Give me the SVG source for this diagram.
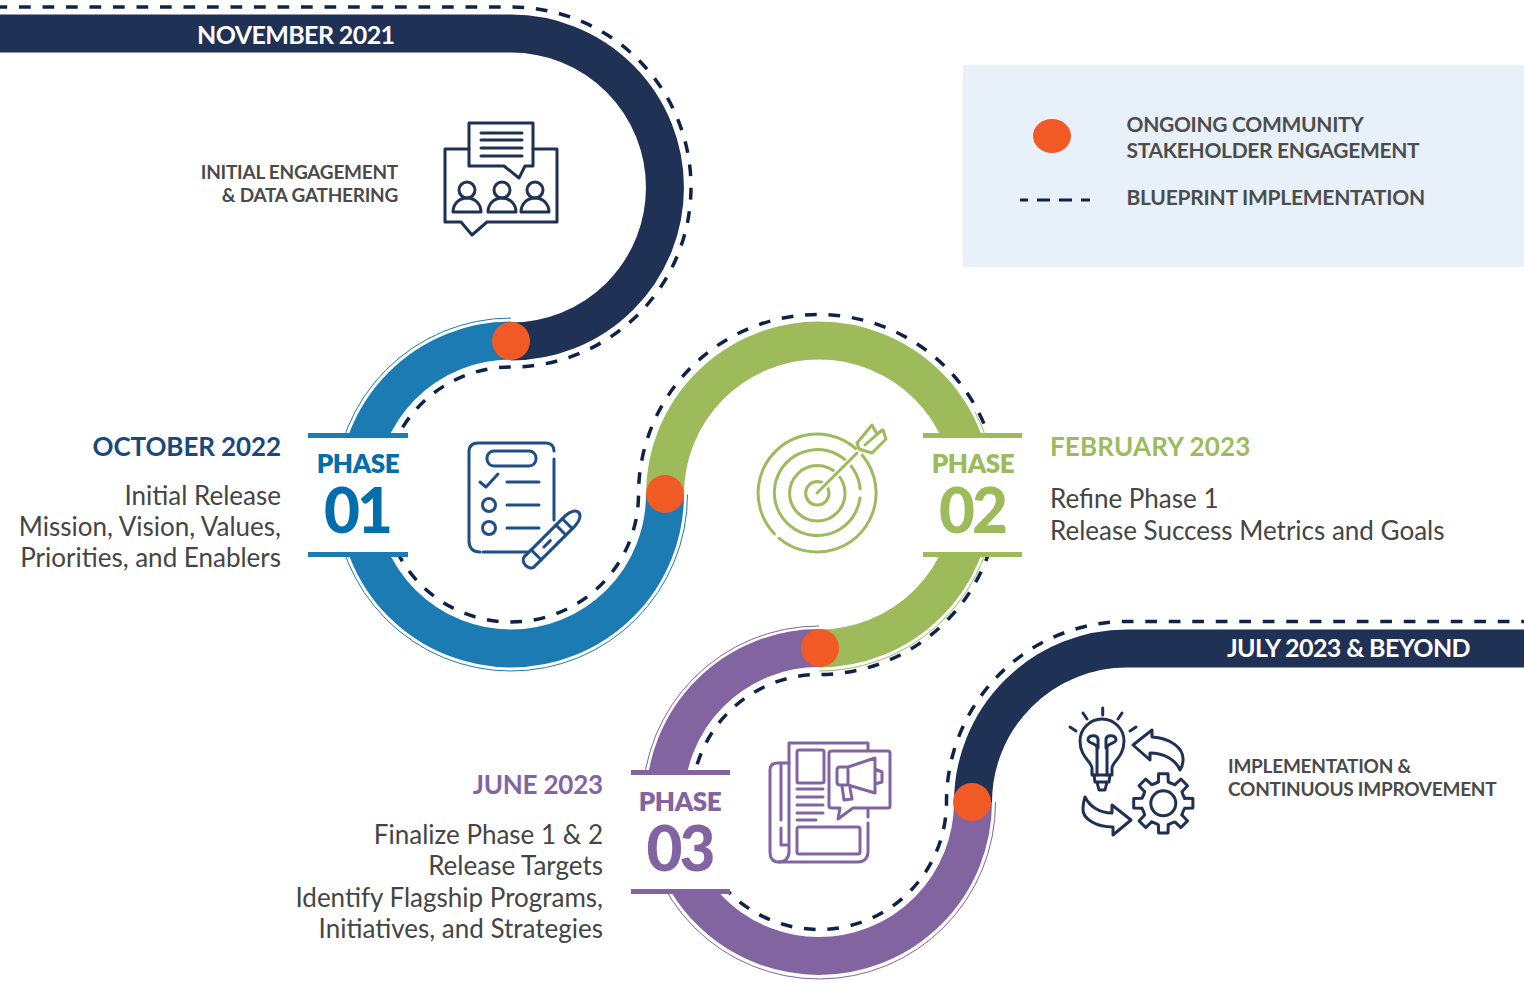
<svg xmlns="http://www.w3.org/2000/svg" xmlns:xlink="http://www.w3.org/1999/xlink" width="1524" height="987" viewBox="0 0 1524 987">
<style>
text{font-family:Lato,"Noto Sans","Liberation Sans",sans-serif}
.b{fill:none;stroke-width:38}
.thin{fill:none;stroke-width:1}
.dot{fill:#f15a25}
.dash{fill:none;stroke:#0f2347;stroke-width:3.500;stroke-dasharray:11.700 11.800;stroke-dashoffset:4.500}
.wh{fill:#fff}
.date{font-weight:700;font-size:26px}
.body{font-size:26px;fill:#454545;font-weight:400}
.ph{font-weight:800;font-size:26px;text-anchor:middle;letter-spacing:-.4px}
.num{font-weight:900;font-size:62px;text-anchor:middle;letter-spacing:-3px}
.lab{font-weight:700;font-size:19px;fill:#4a4a4a;letter-spacing:-.25px}
.leg{font-weight:700;font-size:21px;fill:#4d4d4d;letter-spacing:-.32px}
.ban{font-weight:700;font-size:25px;fill:#fff;letter-spacing:-.6px}
.ico{fill:none;stroke-width:3;stroke-linecap:round;stroke-linejoin:round}
.end{text-anchor:end}
</style>
<defs>
<path id="tooth" d="M21.4-4.95 29.6-4.7 29.6 4.7 21.4 4.95A22 22 0 0 0 18.66 11.66"/>
</defs>
<g id="connectors">
<path class="b" stroke="#1f3155" d="M0 33.500H511A154 154 0 0 1 511 341.500"/>
<path class="b" stroke="#1b7bb2" d="M511 340.500A154 154 0 1 0 665 494.500"/>
<path class="b" stroke="#9dbb5a" d="M665 494.500A154 154 0 1 1 819 648.500"/>
<path class="b" stroke="#8264a1" d="M819 648A154 154 0 1 0 973 802"/>
<path class="b" stroke="#1f3155" d="M973 802A154 154 0 0 1 1127 648.500H1524"/>
<path class="thin" stroke="#1b7bb2" d="M511 318A176.500 176.500 0 1 0 687.500 494.500"/>
<path class="thin" stroke="#9dbb5a" d="M975 412A176.500 176.500 0 0 1 819 671"/>
<path class="thin" stroke="#8264a1" d="M819 626A176.500 176.500 0 1 0 995.500 802"/>
<path class="dash" d="M0 7H511A180 180 0 0 1 511 367A127.500 127.500 0 1 0 638.500 494.500A180 180 0 1 1 819 674.500A127.500 127.500 0 1 0 946.500 802A180.500 180.500 0 0 1 1127 621.500H1524"/>
</g>
<g id="legend">
<rect x="963" y="65" width="561" height="202" fill="#e8f0f9"/>
<ellipse class="dot" cx="1052" cy="136" rx="19" ry="17"/>
<path d="M1020 200H1090" fill="none" stroke="#0f2347" stroke-width="3" stroke-dasharray="13 9" stroke-dashoffset="5"/>
<text class="leg" x="1126.500" y="132">ONGOING COMMUNITY</text>
<text class="leg" x="1126.500" y="158">STAKEHOLDER ENGAGEMENT</text>
<text class="leg" x="1126.500" y="205" style="letter-spacing:-.25px">BLUEPRINT IMPLEMENTATION</text>
</g>
<g id="start-banner">
<text class="ban" x="197" y="44">NOVEMBER 2021</text>
</g>
<g id="engagement">
<text class="lab end" x="398" y="179">INITIAL ENGAGEMENT</text>
<text class="lab end" x="398" y="202">&amp; DATA GATHERING</text>
<g class="ico" stroke="#1f3155">
<path d="M469 149H445V222H461L472 235 487 222H557V149H533"/>
<path d="M469 123H533V166H525L519 178 504 166H469Z"/>
<path d="M481 133H522M481 140H522M481 148H522M481 156H522"/>
<circle cx="467" cy="190" r="8"/><circle cx="502" cy="190" r="8"/><circle cx="535" cy="190" r="8"/>
<path d="M453 212C453 204 459 198 467 198S481 204 481 212Z"/>
<path d="M488 212C488 204 494 198 502 198S516 204 516 212Z"/>
<path d="M521 212C521 204 527 198 535 198S549 204 549 212Z"/>
</g>
</g>
<g id="phase-01">
<rect class="wh" x="308" y="433" width="100" height="124"/>
<rect x="308" y="433" width="100" height="5" fill="#1b7bb2"/>
<rect x="308" y="552" width="100" height="5" fill="#1b7bb2"/>
<text class="ph" x="358" y="473" fill="#026eab">PHASE</text>
<text class="num" x="357" y="533" fill="#026eab">01</text>
<text class="date end" x="281" y="456" fill="#17497f" style="letter-spacing:-.1px">OCTOBER 2022</text>
<text class="body end" x="281" y="505">Initial Release</text>
<text class="body end" x="281" y="536">Mission, Vision, Values,</text>
<text class="body end" x="281" y="567">Priorities, and Enablers</text>
<g class="ico" stroke="#1f4e87">
<path d="M554 451C554 446 551 443 546 443H478C472 443 469 446 469 452V541C469 548 473 552 480 552"/>
<path d="M554 459V520M483 552H530"/>
<rect x="487" y="451" width="49" height="15" rx="7"/>
<path d="M480 482 486 487 498 474"/>
<path d="M507 482H539M507 505H539M507 528H539"/>
<circle cx="489" cy="505" r="6.500"/><circle cx="489" cy="528" r="6.500"/>
<g transform="translate(527 564) rotate(-45)">
<path d="M3-7 61-7C69-7 73-3 73 0S69 7 61 7H3C0 7-2 3-2 0S0-7 3-7Z" fill="#fff"/>
<path d="M13-7V7M48-7V7M57-7V7M24 0H33"/>
</g>
</g>
</g>
<g id="phase-02">
<rect class="wh" x="923" y="433" width="99" height="124"/>
<rect x="923" y="433" width="99" height="5" fill="#9dbb5a"/>
<rect x="923" y="552" width="99" height="5" fill="#9dbb5a"/>
<text class="ph" x="973" y="473" fill="#9dbb5a">PHASE</text>
<text class="num" x="972" y="533" fill="#9dbb5a">02</text>
<text class="date" x="1050" y="456" fill="#9dbb5a" style="letter-spacing:.15px">FEBRUARY 2023</text>
<text class="body" x="1050" y="508">Refine Phase 1</text>
<text class="body" x="1050" y="540">Release Success Metrics and Goals</text>
<g class="ico" stroke="#9dbb5a">
<path d="M774.400 533.800A59 59 0 1 1 779.200 538.300"/>
<path d="M860 498A43 43 0 1 1 860.200 489"/>
<circle cx="817.300" cy="493.300" r="27.700"/>
<circle cx="817.300" cy="493.300" r="11.700"/>
<path d="M817 493 860 451" stroke="#fff" stroke-width="7" stroke-linecap="butt"/>
<path d="M817 493 857 453"/>
<path d="M857 443 872 425 877 434 883 430 886 439 872 453 859 449Z" fill="#fff"/>
<path d="M865 445 882 430"/>
</g>
</g>
<g id="phase-03">
<rect class="wh" x="631" y="770" width="99" height="124"/>
<rect x="631" y="770" width="99" height="5" fill="#8264a1"/>
<rect x="631" y="889" width="99" height="5" fill="#8264a1"/>
<text class="ph" x="680" y="811" fill="#8264a1">PHASE</text>
<text class="num" x="679.500" y="871" fill="#8264a1">03</text>
<text class="date end" x="603" y="794" fill="#8264a1" style="letter-spacing:-.2px">JUNE 2023</text>
<text class="body end" x="603" y="844">Finalize Phase 1 &amp; 2</text>
<text class="body end" x="603" y="875">Release Targets</text>
<text class="body end" x="603" y="907">Identify Flagship Programs,</text>
<text class="body end" x="603" y="938">Initiatives, and Strategies</text>
<g class="ico" stroke="#8264a1">
<path d="M789 763V743H868V750M868 810V817M868 823V852C868 858 864 862 858 862H778C773 862 770 858 770 852V770C770 765 773 763 778 763H789"/>
<path d="M789 763V852C789 858 785 862 779 862M781 765V820M781 828V845H788"/>
<rect x="797" y="750" width="27" height="33" rx="2"/>
<path d="M797 789H823M797 797H823M797 805H823M797 813H823M797 820H816"/>
<rect x="797" y="827" width="63" height="27" rx="2"/>
<path d="M832 751H888Q890 751 890 753V806Q890 808 888 808H853L838 819 840 808H832Q829 808 829 806V753Q829 751 832 751Z" fill="#fff"/>
<path d="M848 767 875 758V793L848 785H840Q837 785 837 782V770Q837 767 840 767ZM848 767V785M875 769 882 772V782L875 784M842 786 844 800 852 799 850 788"/>
</g>
</g>
<g id="end-banner">
<text class="ban end" x="1470" y="657">JULY 2023 &amp; BEYOND</text>
<text class="lab" x="1228" y="773">IMPLEMENTATION &amp;</text>
<text class="lab" x="1228" y="796">CONTINUOUS IMPROVEMENT</text>
<g class="ico" stroke="#1f3155">
<path d="M1092 775V768C1092 762 1080 757 1080 741A22 22 0 0 1 1124 741C1124 757 1112 762 1112 768V775Z"/>
<path d="M1097 775V748C1097 743 1089 744 1088 740 1088 735 1097 734 1098 739V748M1107 775V748C1107 743 1115 744 1116 740 1116 735 1107 734 1106 739V748"/>
<path d="M1094 775 1095 782H1109L1110 775M1097 782 1099 790H1105L1107 782"/>
<path d="M1102.700 708V715M1083 713 1087 719M1122 713 1118 719M1070 727 1076 731M1136 727 1130 731"/>
<path d="M1133 745 1152 730V737C1170 738 1184 748 1183 760 1183 764 1182 767 1180 770 1176 760 1164 753 1150 753V760Z"/>
<path d="M1131 820 1113 835V827C1098 827 1082 820 1083 808 1083 804 1084 800 1085 797 1090 807 1100 813 1112 813V805Z"/>
<g transform="translate(1163.300 803.300)">
<use xlink:href="#tooth"/><use xlink:href="#tooth" transform="rotate(45)"/><use xlink:href="#tooth" transform="rotate(90)"/><use xlink:href="#tooth" transform="rotate(135)"/><use xlink:href="#tooth" transform="rotate(180)"/><use xlink:href="#tooth" transform="rotate(225)"/><use xlink:href="#tooth" transform="rotate(270)"/><use xlink:href="#tooth" transform="rotate(315)"/>
<circle r="12.500"/>
</g>
</g>
</g>
<g id="dots">
<circle class="dot" cx="511" cy="341" r="19"/>
<circle class="dot" cx="665" cy="494" r="19"/>
<circle class="dot" cx="820" cy="648" r="19"/>
<circle class="dot" cx="972" cy="802" r="19"/>
</g>
</svg>
